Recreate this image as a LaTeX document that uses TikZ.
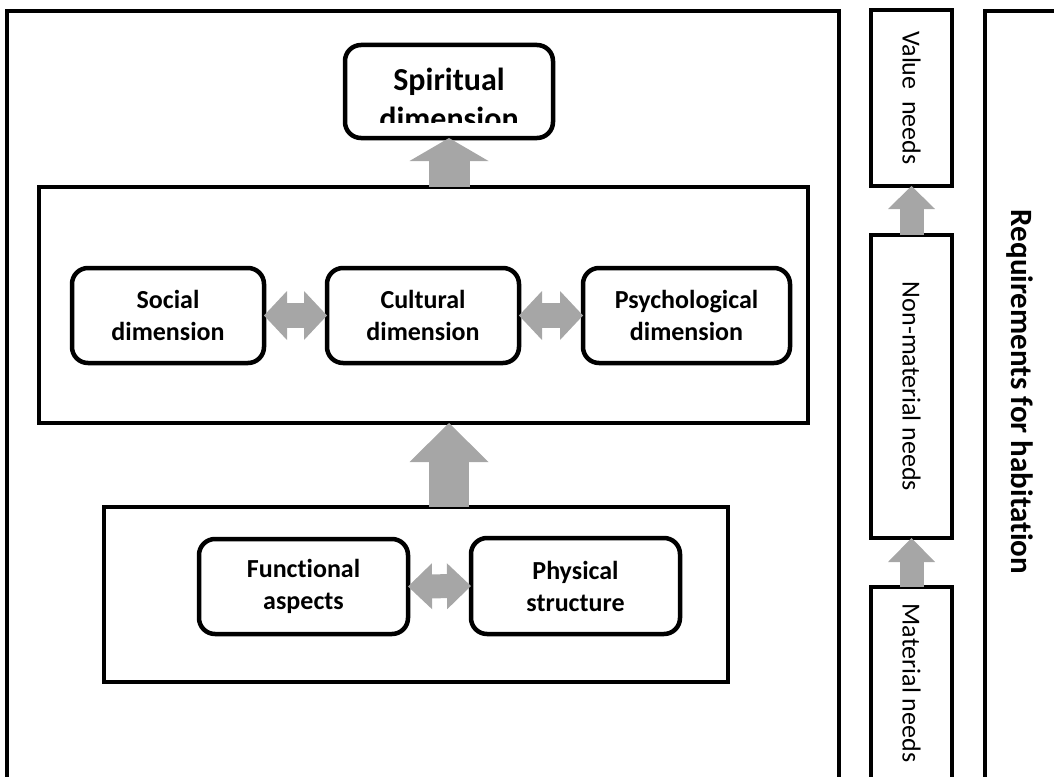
\documentclass[tikz,border=0pt]{standalone}
\usepackage{fontspec}
\setmainfont{Carlito}[Ligatures=NoCommon]
\usetikzlibrary{arrows.meta}
\definecolor{arrowgray}{HTML}{A6A6A6}
\tikzset{
  dimbox/.style={draw, line width=4.5pt, rounded corners=16pt, inner sep=0pt, outer sep=0pt,
    align=center, font=\fontsize{26}{32}\selectfont\bfseries},
  needbox/.style={draw, line width=4.5pt, inner sep=0pt, outer sep=0pt, minimum width=81pt},
  needtext/.style={rotate=-90, font=\fontsize{26}{32}\selectfont},
  groupbox/.style={draw, line width=4pt, inner sep=0pt, outer sep=0pt},
  uparrow/.style n args={3}{arrowgray, line width=#1, -{Triangle[width=#2, length=#3, line width=0pt]}},
  dblarrow/.style n args={3}{arrowgray, line width=#1,
    {Triangle[width=#2, length=#3, line width=0pt]}-{Triangle[width=#2, length=#3, line width=0pt]}}
}
\begin{document}
\begin{tikzpicture}[x=1pt, y=-1pt]
    \useasboundingbox (0,0) rectangle (1054,776);
    \clip (0,0) rectangle (1054,776);

    % Frames
    \draw[line width=4pt] (7,800) -- (7,11) -- (839,11) -- (839,800);
    \draw[line width=4pt] (985,800) -- (985,11) -- (1080,11);

    % Dimensions
    \node[dimbox, minimum width=208pt, minimum height=93pt] (spirit) at (449,91.5) {};
    \begin{scope}
        \clip (345,45) rectangle (553,122);
        \node[anchor=base, font=\fontsize{32}{39}\selectfont\bfseries] (spirittop) at (449,90) {Spiritual};
        \node[anchor=base, font=\fontsize{32}{39}\selectfont\bfseries] (spiritbot) at (449,129) {dimension};
    \end{scope}

    \node[groupbox, minimum width=769pt, minimum height=236pt] (mid) at (423.5,305) {};
    \node[dimbox, minimum width=192pt, minimum height=95pt] (social) at (168,315.5) {Social\\dimension};
    \node[dimbox, minimum width=192pt, minimum height=95pt] (cultural) at (423,315.5) {Cultural\\dimension};
    \node[dimbox, minimum width=207pt, minimum height=95pt] (psych) at (686.5,315.5) {Psychological\\dimension};

    \node[groupbox, minimum width=624pt, minimum height=175pt] (lower) at (416,594.5) {};
    \node[dimbox, minimum width=209pt, minimum height=95pt] (functional) at (303.5,586.5) {Functional\\aspects};
    \node[dimbox, minimum width=209pt, minimum height=96pt] (physical) at (575.5,586) {Physical\\structure};

    \draw[uparrow={41pt}{79pt}{23pt}] (spirit.south |- mid.north) -- (spirit.south);
    \draw[uparrow={40pt}{79pt}{39pt}] (lower.north -| spirit.south) -- (mid.south -| spirit.south);
    \draw[dblarrow={25pt}{49pt}{23pt}] (social.east) -- (cultural.west);
    \draw[dblarrow={25pt}{49pt}{23pt}] (cultural.east) -- (psych.west);
    \draw[dblarrow={24pt}{46pt}{24pt}] (functional.east) -- (physical.west);

    % Needs
    \node[needbox, minimum height=176pt] (value) at (911.5,98) {};
    \node[needtext] at (value.center) {Value\ \ needs};
    \node[needbox, minimum height=303pt] (nonmat) at (911.5,386.5) {};
    \node[needtext] at (nonmat.center) {Non-material needs};
    \node[needbox, minimum height=192pt] (material) at (911.5,683) {};
    \node[needtext] at (material.center) {Material needs};

    \draw[uparrow={24pt}{47pt}{23pt}] (nonmat.north) -- (value.south);
    \draw[uparrow={24pt}{47pt}{24pt}] (material.north) -- (nonmat.south);

    \node[rotate=-90, font=\fontsize{31}{37}\selectfont\bfseries] (req) at (1020,392) {Requirements for habitation};
\end{tikzpicture}
\end{document}
